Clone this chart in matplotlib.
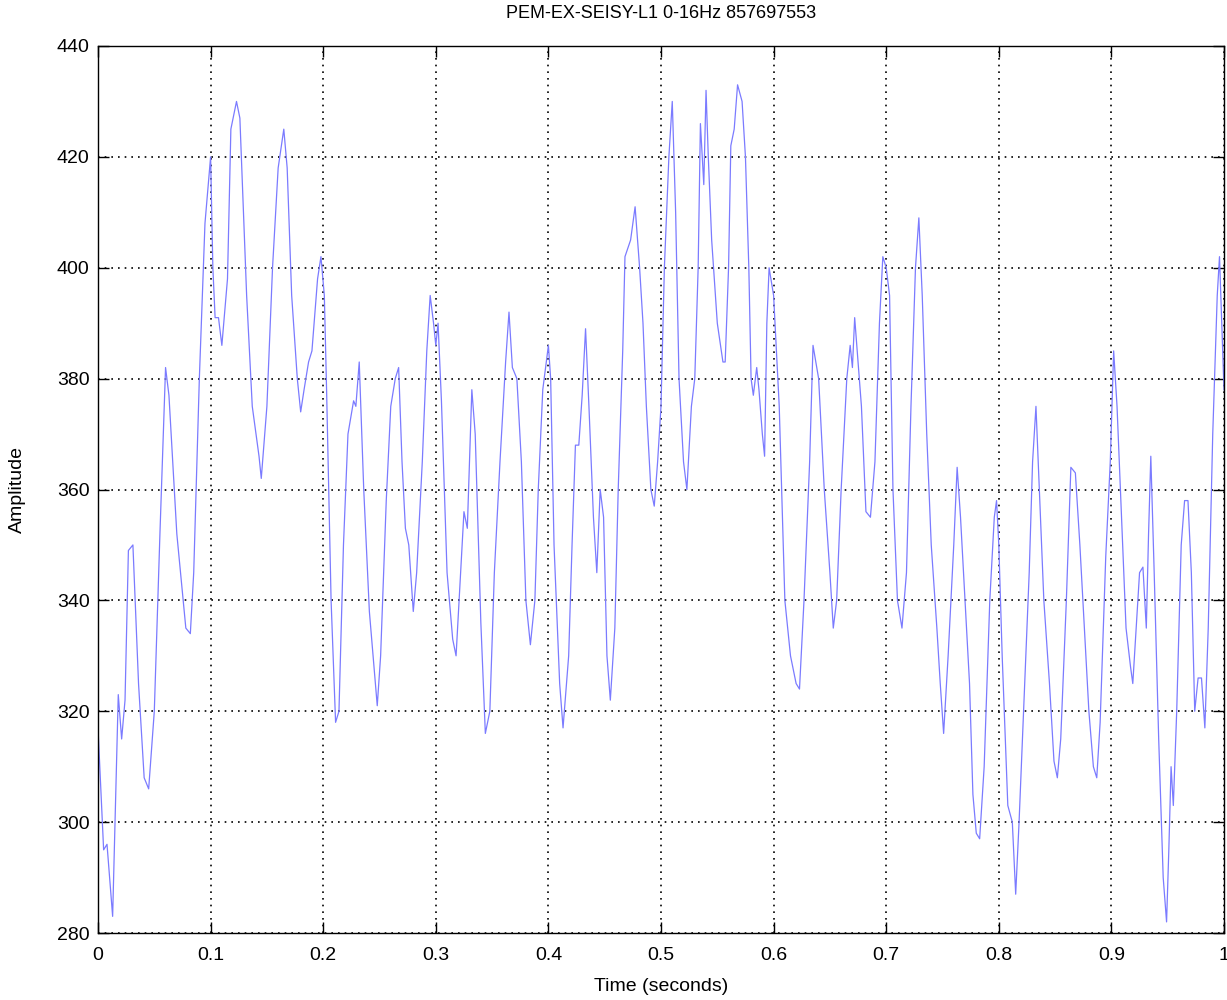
import matplotlib
matplotlib.use("Agg")
import matplotlib.pyplot as plt
import numpy as np

title = "PEM-EX-SEISY-L1 0-16Hz 857697553"
x_label = "Time (seconds)"
y_label = "Amplitude"

time_s = [0.000, 0.005, 0.008, 0.013, 0.018, 0.021, 0.024, 0.027, 0.031, 0.036,
          0.041, 0.045, 0.050, 0.055, 0.060, 0.063, 0.070, 0.078, 0.082, 0.085,
          0.090, 0.095, 0.100, 0.102, 0.104, 0.107, 0.110, 0.115, 0.118, 0.123,
          0.126, 0.132, 0.137, 0.143, 0.145, 0.150, 0.155, 0.160, 0.165, 0.168,
          0.172, 0.177, 0.180, 0.183, 0.187, 0.190, 0.195, 0.198, 0.201, 0.203,
          0.207, 0.211, 0.214, 0.218, 0.222, 0.227, 0.229, 0.232, 0.236, 0.241,
          0.246, 0.248, 0.251, 0.256, 0.260, 0.264, 0.267, 0.270, 0.273, 0.276,
          0.280, 0.283, 0.288, 0.292, 0.295, 0.298, 0.300, 0.302, 0.305, 0.310,
          0.315, 0.318, 0.322, 0.325, 0.328, 0.332, 0.335, 0.340, 0.344, 0.348,
          0.352, 0.357, 0.362, 0.365, 0.368, 0.372, 0.376, 0.380, 0.384, 0.388,
          0.391, 0.395, 0.400, 0.402, 0.405, 0.410, 0.413, 0.418, 0.421, 0.424,
          0.427, 0.430, 0.433, 0.436, 0.440, 0.443, 0.446, 0.449, 0.452, 0.455,
          0.459, 0.462, 0.466, 0.468, 0.473, 0.477, 0.481, 0.484, 0.487, 0.491,
          0.494, 0.497, 0.500, 0.503, 0.507, 0.510, 0.513, 0.516, 0.520, 0.523,
          0.527, 0.530, 0.533, 0.535, 0.538, 0.540, 0.542, 0.545, 0.550, 0.555,
          0.557, 0.560, 0.562, 0.565, 0.568, 0.572, 0.575, 0.578, 0.580, 0.582,
          0.585, 0.587, 0.590, 0.592, 0.594, 0.596, 0.600, 0.605, 0.610, 0.615,
          0.620, 0.623, 0.627, 0.632, 0.635, 0.640, 0.645, 0.650, 0.653, 0.656,
          0.660, 0.665, 0.668, 0.670, 0.672, 0.675, 0.678, 0.682, 0.686, 0.690,
          0.694, 0.697, 0.700, 0.703, 0.706, 0.710, 0.714, 0.718, 0.722, 0.726,
          0.729, 0.732, 0.736, 0.740, 0.745, 0.748, 0.751, 0.755, 0.760, 0.763,
          0.766, 0.770, 0.774, 0.777, 0.780, 0.783, 0.787, 0.792, 0.796, 0.798,
          0.800, 0.803, 0.808, 0.812, 0.815, 0.818, 0.822, 0.827, 0.830, 0.833,
          0.836, 0.840, 0.845, 0.849, 0.852, 0.855, 0.860, 0.864, 0.868, 0.872,
          0.876, 0.880, 0.884, 0.887, 0.890, 0.895, 0.899, 0.902, 0.905, 0.910,
          0.913, 0.917, 0.919, 0.922, 0.925, 0.928, 0.931, 0.933, 0.935, 0.938,
          0.942, 0.946, 0.949, 0.951, 0.953, 0.955, 0.958, 0.962, 0.965, 0.968,
          0.971, 0.974, 0.977, 0.980, 0.983, 0.986, 0.990, 0.994, 0.996, 0.998,
          1.000]

amplitude = [317, 295, 296, 283, 323, 315, 322, 349, 350, 325,
             308, 306, 320, 352, 382, 377, 352, 335, 334, 345,
             380, 408, 420, 400, 391, 391, 386, 398, 425, 430,
             427, 395, 375, 366, 362, 375, 400, 418, 425, 418,
             395, 380, 374, 378, 383, 385, 398, 402, 395, 378,
             340, 318, 320, 350, 370, 376, 375, 383, 360, 338,
             326, 321, 330, 358, 375, 380, 382, 365, 353, 350,
             338, 345, 365, 385, 395, 390, 386, 390, 376, 345,
             333, 330, 345, 356, 353, 378, 370, 336, 316, 320,
             345, 365, 383, 392, 382, 380, 365, 340, 332, 340,
             360, 378, 386, 380, 350, 325, 317, 330, 350, 368,
             368, 377, 389, 375, 355, 345, 360, 355, 330, 322,
             335, 360, 385, 402, 405, 411, 400, 390, 375, 360,
             357, 365, 375, 400, 420, 430, 410, 380, 365, 360,
             375, 380, 400, 426, 415, 432, 420, 405, 390, 383,
             383, 400, 422, 425, 433, 430, 420, 400, 380, 377,
             382, 378, 370, 366, 390, 400, 395, 375, 340, 330,
             325, 324, 340, 365, 386, 380, 360, 345, 335, 340,
             360, 380, 386, 382, 391, 383, 375, 356, 355, 365,
             390, 402, 400, 395, 360, 340, 335, 345, 375, 400,
             409, 395, 370, 350, 335, 325, 316, 330, 350, 364,
             355, 340, 325, 305, 298, 297, 310, 340, 355, 358,
             350, 330, 303, 300, 287, 300, 320, 345, 365, 375,
             360, 340, 325, 311, 308, 315, 340, 364, 363, 350,
             335, 320, 310, 308, 318, 348, 365, 385, 375, 350,
             335, 328, 325, 335, 345, 346, 335, 352, 366, 345,
             315, 290, 282, 295, 310, 303, 320, 350, 358, 358,
             345, 320, 326, 326, 317, 335, 370, 395, 402, 390,
             378]

x_ticks = [0, 0.1, 0.2, 0.3, 0.4, 0.5, 0.6, 0.7, 0.8, 0.9, 1]
x_tick_labels = ["0", "0.1", "0.2", "0.3", "0.4", "0.5", "0.6", "0.7", "0.8", "0.9", "1"]
y_ticks = [280, 300, 320, 340, 360, 380, 400, 420, 440]

plt.rcParams['font.family'] = ['Liberation Sans', 'DejaVu Sans']

fig = plt.figure(figsize=(12.27, 10.0), dpi=100)
ax = fig.add_axes([98 / 1227, 67 / 1000, 1126 / 1227, 887 / 1000])

ax.plot(time_s, amplitude, color='#7b7bff', linewidth=0.9)

ax.set_xlim(0, 1)
ax.set_ylim(280, 440)
ax.set_xticks(x_ticks)
ax.set_xticklabels(x_tick_labels)
ax.set_yticks(y_ticks)

ax.grid(True, color='black', linestyle=(0, (1, 3)), linewidth=1.2)
ax.tick_params(direction='in', top=True, right=True, length=8, width=1,
               labelsize=14)
ax.tick_params(axis='x', pad=10)
ax.tick_params(axis='y', pad=6)
for sp in ax.spines.values():
    sp.set_linewidth(1.0)

ax.set_title(title, fontsize=13, pad=20)
ax.set_xlabel(x_label, fontsize=14, labelpad=10)
ax.set_ylabel(y_label, fontsize=14, labelpad=22)

fig.savefig("out.png", dpi=100)
